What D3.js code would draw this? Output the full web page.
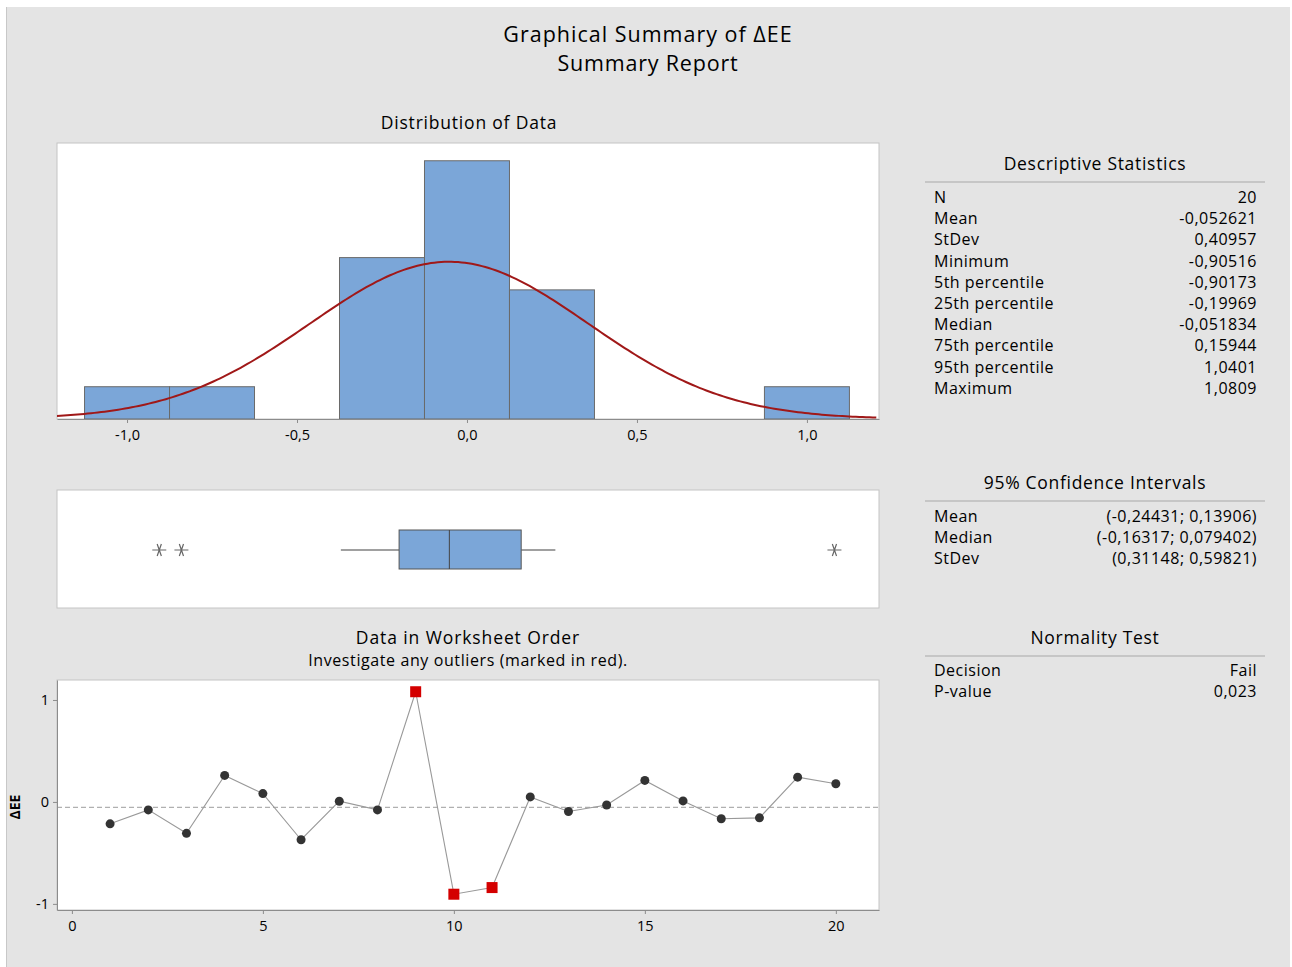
<!DOCTYPE html>
<html>
<head>
<meta charset="utf-8">
<script src="https://cdn.jsdelivr.net/npm/d3@7"></script>
<style>
  html, body { margin: 0; padding: 0; background: #fff; }
  svg { display: block; font-family: "Open Sans", "Noto Sans", sans-serif; }
</style>
</head>
<body>
<svg id="chart" width="1292" height="967"></svg>
<script>
// observations of ΔEE, in worksheet order
const deltaEE = [-0.215, -0.078, -0.308, 0.26, 0.082, -0.371, 0.007, -0.078, 1.0809, -0.90516,
                 -0.84, 0.049, -0.094, -0.03, 0.211, 0.01, -0.165, -0.156, 0.243, 0.178];
const outlierRows = [9, 10, 11];

const statLabels = ["N", "Mean", "StDev", "Minimum", "5th percentile", "25th percentile",
                    "Median", "75th percentile", "95th percentile", "Maximum"];
const statValues = ["20", "-0,052621", "0,40957", "-0,90516", "-0,90173", "-0,19969",
                    "-0,051834", "0,15944", "1,0401", "1,0809"];
const ciLabels = ["Mean", "Median", "StDev"];
const ciValues = ["(-0,24431; 0,13906)", "(-0,16317; 0,079402)", "(0,31148; 0,59821)"];
const normLabels = ["Decision", "P-value"];
const normValues = ["Fail", "0,023"];

const mean = -0.052621, stdev = 0.40957;
const q1 = -0.19969, median = -0.051834, q3 = 0.15944;

const histTicks = [-1.0, -0.5, 0.0, 0.5, 1.0];
const orderTicks = [0, 5, 10, 15, 20];
const valueTicks = [-1, 0, 1];

const loc = d3.formatLocale({ decimal: ",", thousands: ".", grouping: [3], currency: ["", ""], minus: "-" });
const fmt1 = loc.format(".1f");

const svg = d3.select("#chart");

svg.append("rect").attr("x", 6).attr("y", 7).attr("width", 1284).attr("height", 960)
  .attr("fill", "#e4e4e4");
svg.append("line").attr("x1", 6.5).attr("x2", 6.5).attr("y1", 7).attr("y2", 967)
  .attr("stroke", "#c8c8c8");

// titles
const titleG = svg.append("g").attr("text-anchor", "middle").attr("fill", "#000");
titleG.append("text").attr("x", 648).attr("y", 42).attr("font-size", 21.5)
  .attr("letter-spacing", 1).text("Graphical Summary of ΔEE");
titleG.append("text").attr("x", 648).attr("y", 71).attr("font-size", 21.5)
  .attr("letter-spacing", 0.8).text("Summary Report");
titleG.append("text").attr("x", 469).attr("y", 129).attr("font-size", 17.5)
  .attr("letter-spacing", 0.8).text("Distribution of Data");
titleG.append("text").attr("x", 468).attr("y", 644).attr("font-size", 17.5)
  .attr("letter-spacing", 0.9).text("Data in Worksheet Order");
titleG.append("text").attr("x", 468).attr("y", 666).attr("font-size", 16)
  .attr("letter-spacing", 0.6).text("Investigate any outliers (marked in red).");

// ---- histogram ----
const hx = d3.scaleLinear().domain([-1.206, 1.212]).range([57, 879]);
const hy = d3.scaleLinear().domain([0, 8.55]).range([419, 143]);

svg.append("rect").attr("x", 57).attr("y", 143).attr("width", 822).attr("height", 276)
  .attr("fill", "#fff").attr("stroke", "#c4c4c4");

const bins = d3.bin()
  .domain([-1.125, 1.125])
  .thresholds(d3.range(-0.875, 0.9, 0.25))(deltaEE)
  .filter(b => b.length > 0);

svg.append("g").selectAll("rect")
  .data(bins)
  .join("rect")
  .attr("x", d => hx(d.x0))
  .attr("y", d => hy(d.length))
  .attr("width", d => hx(d.x1) - hx(d.x0))
  .attr("height", d => hy(0) - hy(d.length))
  .attr("fill", "#7ba6d8")
  .attr("stroke", "#6a6a6a")
  .attr("stroke-width", 1);

// fitted normal, scaled to counts
const binW = 0.25;
const pdf = x => Math.exp(-0.5 * ((x - mean) / stdev) ** 2) / (stdev * Math.sqrt(2 * Math.PI));
const curveX = d3.range(hx.domain()[0], hx.domain()[1] + 0.001, 0.01);
svg.append("path")
  .datum(curveX)
  .attr("fill", "none")
  .attr("stroke", "#a01818")
  .attr("stroke-width", 2)
  .attr("d", d3.line().x(d => hx(d)).y(d => hy(deltaEE.length * binW * pdf(d))));

const hAxis = svg.append("g")
  .attr("transform", "translate(0,419)")
  .call(d3.axisBottom(hx).tickValues(histTicks).tickFormat(fmt1).tickSize(4).tickSizeOuter(0));
hAxis.select(".domain").attr("stroke", "#8c8c8c");
hAxis.selectAll(".tick line").attr("stroke", "#8c8c8c");
hAxis.selectAll("text").attr("font-size", 14.5).attr("fill", "#000").attr("dy", "0.95em")
  .attr("font-family", "Open Sans");

// ---- boxplot ----
svg.append("rect").attr("x", 57).attr("y", 490).attr("width", 822).attr("height", 118)
  .attr("fill", "#fff").attr("stroke", "#c4c4c4");

const iqr = q3 - q1;
const loFence = q1 - 1.5 * iqr, hiFence = q3 + 1.5 * iqr;
const inside = deltaEE.filter(v => v >= loFence && v <= hiFence);
const whiskLo = d3.min(inside), whiskHi = d3.max(inside);
const boxOut = deltaEE.filter(v => v < loFence || v > hiFence);
const by = 550;

const boxG = svg.append("g");
boxG.append("line").attr("x1", hx(whiskLo)).attr("x2", hx(q1)).attr("y1", by).attr("y2", by)
  .attr("stroke", "#a0a0a0").attr("stroke-width", 2);
boxG.append("line").attr("x1", hx(q3)).attr("x2", hx(whiskHi)).attr("y1", by).attr("y2", by)
  .attr("stroke", "#a0a0a0").attr("stroke-width", 2);
boxG.append("rect").attr("x", hx(q1)).attr("y", by - 20).attr("width", hx(q3) - hx(q1)).attr("height", 39)
  .attr("fill", "#7ba6d8").attr("stroke", "#555");
boxG.append("line").attr("x1", hx(median)).attr("x2", hx(median)).attr("y1", by - 20).attr("y2", by + 19)
  .attr("stroke", "#444");

// six-armed asterisk
const star = r => {
  const a = Math.PI / 3;
  return `M${-r},0L${r},0` +
    `M${-r * Math.cos(a) * 0.6},${-r * Math.sin(a)}L${r * Math.cos(a) * 0.6},${r * Math.sin(a)}` +
    `M${r * Math.cos(a) * 0.6},${-r * Math.sin(a)}L${-r * Math.cos(a) * 0.6},${r * Math.sin(a)}`;
};
boxG.selectAll("path.out")
  .data(boxOut)
  .join("path")
  .attr("class", "out")
  .attr("transform", d => `translate(${hx(d)},${by})`)
  .attr("d", star(7))
  .attr("stroke", "#666")
  .attr("stroke-width", 1.2)
  .attr("fill", "none");

// ---- worksheet order ----
const tx = d3.scaleLinear().domain([-0.39, 21.13]).range([57, 879]);
const ty = d3.scaleLinear().domain([-1.06, 1.196]).range([910, 680]);

svg.append("rect").attr("x", 57).attr("y", 680).attr("width", 822).attr("height", 230)
  .attr("fill", "#fff").attr("stroke", "#c4c4c4");

svg.append("line")
  .attr("x1", 57).attr("x2", 879).attr("y1", ty(mean)).attr("y2", ty(mean))
  .attr("stroke", "#b0b0b0").attr("stroke-dasharray", "5,3").attr("stroke-width", 1.2);

const pts = deltaEE.map((v, i) => ({ row: i + 1, v }));
svg.append("path")
  .datum(pts)
  .attr("fill", "none")
  .attr("stroke", "#999")
  .attr("stroke-width", 1.1)
  .attr("d", d3.line().x(d => tx(d.row)).y(d => ty(d.v)));

svg.append("g").selectAll("circle")
  .data(pts.filter(d => !outlierRows.includes(d.row)))
  .join("circle")
  .attr("cx", d => tx(d.row))
  .attr("cy", d => ty(d.v))
  .attr("r", 4.5)
  .attr("fill", "#333");

svg.append("g").selectAll("rect")
  .data(pts.filter(d => outlierRows.includes(d.row)))
  .join("rect")
  .attr("x", d => tx(d.row) - 5.5)
  .attr("y", d => ty(d.v) - 5.5)
  .attr("width", 11)
  .attr("height", 11)
  .attr("fill", "#d40000");

const txAxis = svg.append("g")
  .attr("transform", "translate(0,910)")
  .call(d3.axisBottom(tx).tickValues(orderTicks).tickSize(4).tickSizeOuter(0));
const tyAxis = svg.append("g")
  .attr("transform", "translate(57,0)")
  .call(d3.axisLeft(ty).tickValues(valueTicks).tickFormat(d => String(d).replace("−", "-")).tickSize(4).tickSizeOuter(0));
[txAxis, tyAxis].forEach(a => {
  a.select(".domain").attr("stroke", "#8c8c8c");
  a.selectAll(".tick line").attr("stroke", "#8c8c8c");
  a.selectAll("text").attr("font-size", 14.5).attr("fill", "#000").attr("font-family", "Open Sans");
});
txAxis.selectAll("text").attr("dy", "0.95em");
tyAxis.selectAll("text").attr("x", -8);

svg.append("text")
  .attr("transform", `translate(20,${ty(-0.05)}) rotate(-90)`)
  .attr("text-anchor", "middle")
  .attr("font-size", 14)
  .attr("font-weight", "bold")
  .text("ΔEE");

// ---- tables on the right ----
function table(title, titleY, labels, values, rowY) {
  const g = svg.append("g").attr("fill", "#000");
  g.append("text").attr("x", 1095).attr("y", titleY).attr("text-anchor", "middle")
    .attr("font-size", 17.5).attr("letter-spacing", 0.7).text(title);
  g.append("line").attr("x1", 925).attr("x2", 1265).attr("y1", titleY + 12).attr("y2", titleY + 12)
    .attr("stroke", "#a8a8a8");
  g.selectAll("text.lab").data(labels).join("text").attr("class", "lab")
    .attr("x", 934).attr("y", (d, i) => rowY + i * 21.2).attr("font-size", 16)
    .attr("letter-spacing", 0.5).text(d => d);
  g.selectAll("text.val").data(values).join("text").attr("class", "val")
    .attr("x", 1257).attr("y", (d, i) => rowY + i * 21.2).attr("text-anchor", "end")
    .attr("font-size", 16).attr("letter-spacing", 0.5).text(d => d);
}
table("Descriptive Statistics", 170, statLabels, statValues, 203);
table("95% Confidence Intervals", 489, ciLabels, ciValues, 522);
table("Normality Test", 644, normLabels, normValues, 676);
</script>
</body>
</html>
